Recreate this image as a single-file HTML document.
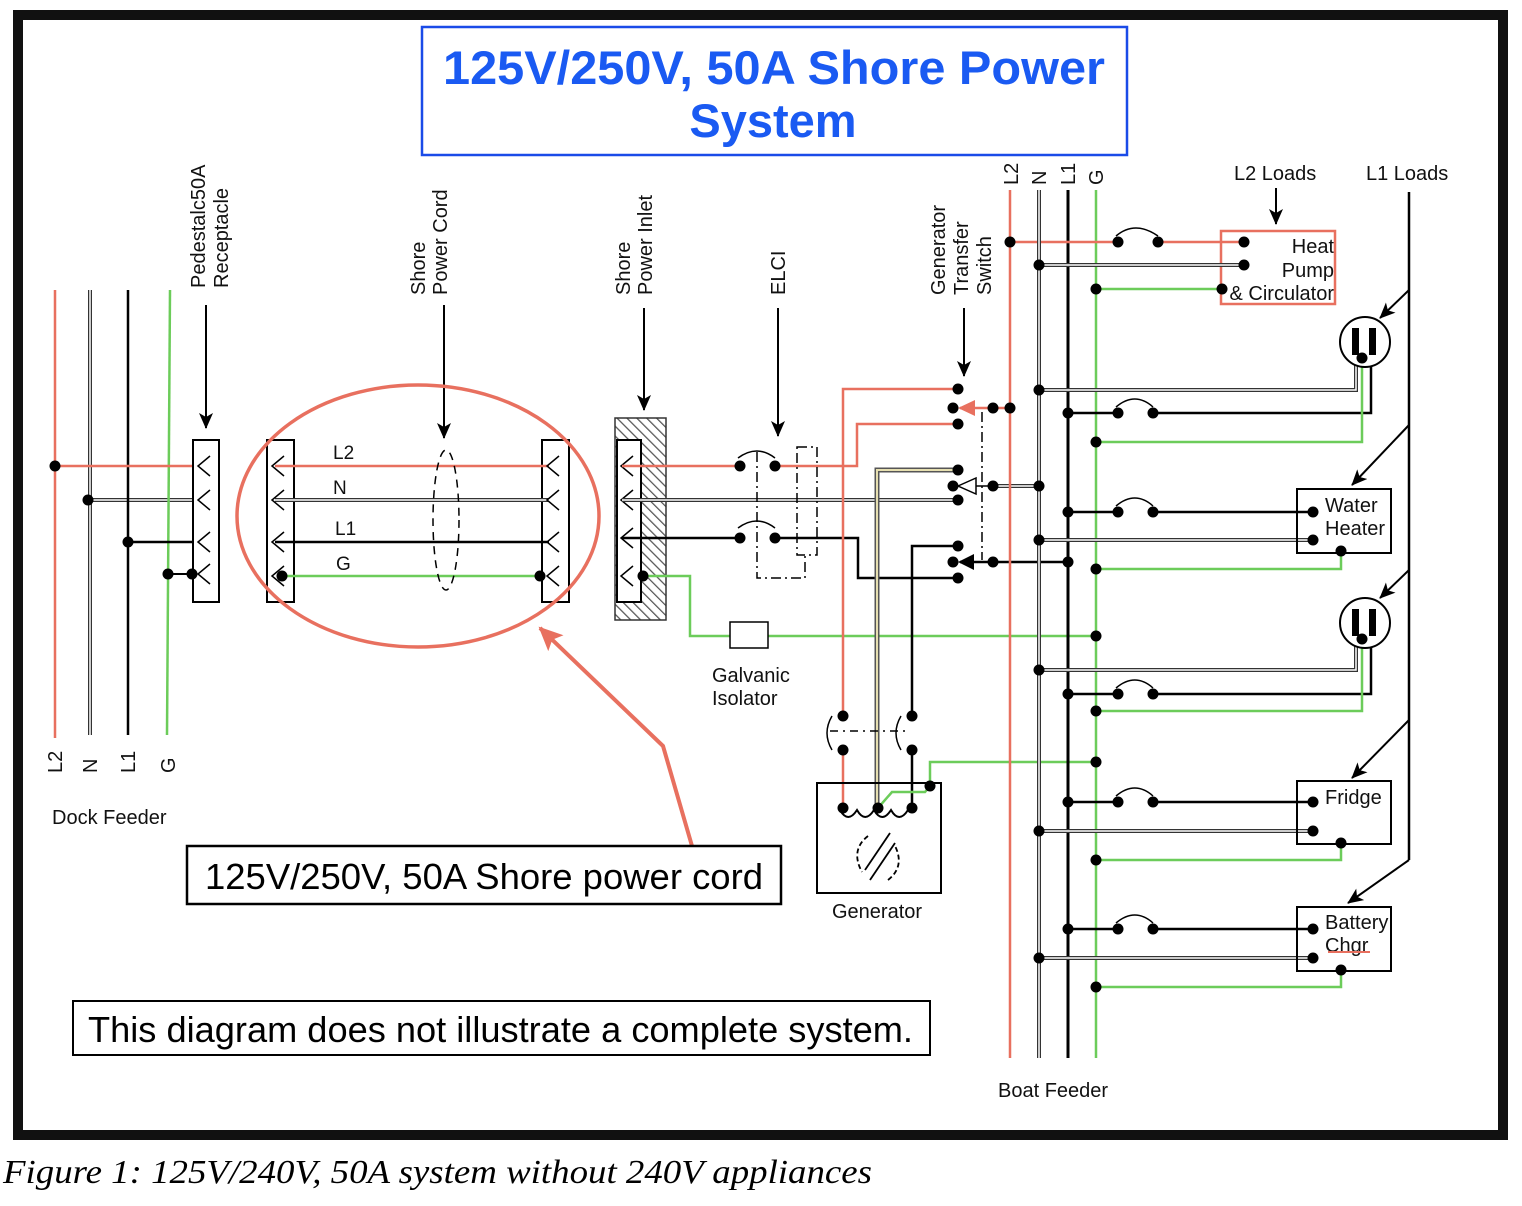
<!DOCTYPE html>
<html><head><meta charset="utf-8"><style>
html,body{margin:0;padding:0;background:#fff;}
svg{display:block;font-family:"Liberation Sans",Arial,sans-serif;}
</style></head><body>
<svg width="1522" height="1206" viewBox="0 0 1522 1206" xmlns="http://www.w3.org/2000/svg">
<defs>
<pattern id="hatch" width="7" height="7" patternUnits="userSpaceOnUse" patternTransform="rotate(-45)">
<rect width="7" height="7" fill="#fff"/><line x1="0" y1="0" x2="0" y2="7" stroke="#555" stroke-width="2.5"/>
</pattern>
<marker id="ahb" markerWidth="16" markerHeight="14" refX="15" refY="7" orient="auto" markerUnits="userSpaceOnUse"><path d="M0,0 L16,7 L0,14 L4,7 Z" fill="#000"/></marker>
<marker id="ahr" markerWidth="24" markerHeight="22" refX="22" refY="11" orient="auto" markerUnits="userSpaceOnUse"><path d="M0,0 L24,11 L0,22 L5,11 Z" fill="#e8705f"/></marker>
</defs>
<rect x="0" y="0" width="1522" height="1206" fill="#fff"/>
<rect x="18" y="15" width="1485" height="1120" fill="#fff" stroke="#111" stroke-width="10"/>

<!-- title -->
<rect x="422" y="27" width="705" height="128" fill="none" stroke="#1a4be8" stroke-width="2.5"/>
<text x="443" y="84" font-size="47" font-weight="bold" fill="#1a5af2" textLength="662" lengthAdjust="spacingAndGlyphs">125V/250V, 50A Shore Power</text>
<text x="773" y="137" font-size="47" font-weight="bold" fill="#1a5af2" text-anchor="middle">System</text>

<g font-size="20" fill="#111">
<text transform="translate(205,288) rotate(-90)">Pedestalc50A</text>
<text transform="translate(228,288) rotate(-90)">Receptacle</text>
<text transform="translate(425,295) rotate(-90)">Shore</text>
<text transform="translate(447,295) rotate(-90)">Power Cord</text>
<text transform="translate(630,295) rotate(-90)">Shore</text>
<text transform="translate(652,295) rotate(-90)">Power Inlet</text>
<text transform="translate(785,295) rotate(-90)">ELCI</text>
<text transform="translate(945,295) rotate(-90)">Generator</text>
<text transform="translate(968,295) rotate(-90)">Transfer</text>
<text transform="translate(991,295) rotate(-90)">Switch</text>
<text transform="translate(1018,185) rotate(-90)">L2</text>
<text transform="translate(1046,185) rotate(-90)">N</text>
<text transform="translate(1075,185) rotate(-90)">L1</text>
<text transform="translate(1103,185) rotate(-90)">G</text>
<text transform="translate(62,773) rotate(-90)">L2</text>
<text transform="translate(97,773) rotate(-90)">N</text>
<text transform="translate(135,773) rotate(-90)">L1</text>
<text transform="translate(175,773) rotate(-90)">G</text>
<text x="52" y="824">Dock Feeder</text>
<text x="1234" y="180">L2 Loads</text>
<text x="1366" y="180">L1 Loads</text>
<text x="998" y="1097">Boat Feeder</text>
<text x="832" y="918">Generator</text>
<text x="712" y="682">Galvanic</text>
<text x="712" y="705">Isolator</text>
<text x="333" y="459" font-size="19">L2</text>
<text x="333" y="494" font-size="19">N</text>
<text x="335" y="535" font-size="19">L1</text>
<text x="336" y="570" font-size="19">G</text>
<text x="1334" y="253" text-anchor="end">Heat</text>
<text x="1334" y="277" text-anchor="end">Pump</text>
<text x="1334" y="300" text-anchor="end">&amp; Circulator</text>
<text x="1325" y="512">Water</text>
<text x="1325" y="535">Heater</text>
<text x="1325" y="804">Fridge</text>
<text x="1325" y="929">Battery</text>
<text x="1325" y="952">Chgr</text>
</g>
<line x1="1328" y1="952" x2="1370" y2="952" stroke="#e8705f" stroke-width="2"/>

<g stroke="#000" stroke-width="2" fill="none" marker-end="url(#ahb)">
<line x1="206" y1="305" x2="206" y2="428"/>
<line x1="444" y1="305" x2="444" y2="438"/>
<line x1="644" y1="308" x2="644" y2="410"/>
<line x1="778" y1="308" x2="778" y2="436"/>
<line x1="964" y1="308" x2="964" y2="376"/>
<line x1="1276" y1="188" x2="1276" y2="224"/>
<line x1="1409" y1="290" x2="1380" y2="318"/>
<line x1="1409" y1="425" x2="1352" y2="485"/>
<line x1="1409" y1="570" x2="1380" y2="598"/>
<line x1="1409" y1="720" x2="1352" y2="778"/>
<line x1="1409" y1="860" x2="1348" y2="903"/>
</g>
<line x1="1409" y1="192" x2="1409" y2="860" stroke="#000" stroke-width="2.5"/>

<line x1="55" y1="290" x2="55" y2="738" stroke="#e8705f" stroke-width="2.5"/>
<g stroke="#333" stroke-width="4"><line x1="90" y1="290" x2="90" y2="735"/><line x1="88" y1="500" x2="200" y2="500"/></g>
<g stroke="#fff" stroke-width="1.5"><line x1="90" y1="290" x2="90" y2="735"/><line x1="88" y1="500" x2="200" y2="500"/></g>
<line x1="128" y1="290" x2="128" y2="735" stroke="#000" stroke-width="2.5"/>
<line x1="170" y1="290" x2="167" y2="735" stroke="#6ccc5a" stroke-width="2.5"/>
<line x1="55" y1="466" x2="200" y2="466" stroke="#e8705f" stroke-width="2.5"/>
<line x1="128" y1="542" x2="200" y2="542" stroke="#000" stroke-width="2.5"/>
<line x1="168" y1="574" x2="200" y2="574" stroke="#000" stroke-width="2"/>
<rect x="193" y="440" width="26" height="162" fill="#fff" stroke="#000" stroke-width="2"/>
<g stroke="#000" stroke-width="1.5" fill="none">
<path d="M210,456 L198,466 L210,476 M210,490 L198,500 L210,510 M210,532 L198,542 L210,552 M210,564 L198,574 L210,584"/>
</g>

<rect x="267" y="440" width="27" height="162" fill="#fff" stroke="#000" stroke-width="2"/>
<rect x="542" y="440" width="27" height="162" fill="#fff" stroke="#000" stroke-width="2"/>
<line x1="275" y1="466" x2="549" y2="466" stroke="#e8705f" stroke-width="2.5"/>
<line x1="275" y1="500" x2="549" y2="500" stroke="#333" stroke-width="4"/>
<line x1="275" y1="500" x2="549" y2="500" stroke="#fff" stroke-width="1.5"/>
<line x1="275" y1="542" x2="549" y2="542" stroke="#000" stroke-width="2.5"/>
<line x1="282" y1="576" x2="540" y2="576" stroke="#6ccc5a" stroke-width="2.5"/>
<g stroke="#000" stroke-width="1.5" fill="none">
<path d="M284,456 L272,466 L284,476 M284,490 L272,500 L284,510 M284,532 L272,542 L284,552 M284,566 L272,576 L284,586"/>
<path d="M559,456 L547,466 L559,476 M559,490 L547,500 L559,510 M559,532 L547,542 L559,552 M559,566 L547,576 L559,586"/>
</g>
<ellipse cx="446" cy="520" rx="13" ry="70" fill="none" stroke="#000" stroke-width="1.5" stroke-dasharray="8,6"/>
<ellipse cx="418" cy="516" rx="181" ry="131" fill="none" stroke="#e8705f" stroke-width="3.5"/>

<rect x="615" y="418" width="51" height="202" fill="url(#hatch)" stroke="#333" stroke-width="1.5"/>
<rect x="617" y="440" width="24" height="162" fill="#fff" stroke="#000" stroke-width="2"/>
<g stroke="#000" stroke-width="1.5" fill="none">
<path d="M633,456 L621,466 L633,476 M633,490 L621,500 L633,510 M633,528 L621,538 L633,548 M633,566 L621,576 L633,586"/>
</g>
<line x1="622" y1="466" x2="740" y2="466" stroke="#e8705f" stroke-width="2.5"/>
<polyline points="775,466 857,466 857,424 958,424" fill="none" stroke="#e8705f" stroke-width="2.5"/>
<line x1="622" y1="500" x2="958" y2="500" stroke="#333" stroke-width="4"/>
<line x1="622" y1="500" x2="958" y2="500" stroke="#fff" stroke-width="1.5"/>
<line x1="622" y1="538" x2="740" y2="538" stroke="#000" stroke-width="2.5"/>
<polyline points="775,538 858,538 858,578 958,578" fill="none" stroke="#000" stroke-width="2.5"/>
<polyline points="643,576 690,576 690,636 730,636" fill="none" stroke="#6ccc5a" stroke-width="2.5"/>
<line x1="768" y1="636" x2="1096" y2="636" stroke="#6ccc5a" stroke-width="2.5"/>
<rect x="730" y="622" width="38" height="26" fill="#fff" stroke="#000" stroke-width="1.5"/>

<g stroke="#000" stroke-width="1.5" fill="none">
<path d="M738,458 Q757,444 775,458"/><path d="M738,528 Q757,514 775,528"/>
<path d="M757,452 L757,578 L805,578 L805,555" stroke-dasharray="10,4,2,4"/>
<rect x="797" y="447" width="20" height="108" stroke-dasharray="10,4,2,4"/>
</g>

<polyline points="958,389 843,389 843,716" fill="none" stroke="#e8705f" stroke-width="2.5"/>
<polyline points="958,470 877,470 877,805" fill="none" stroke="#555" stroke-width="5"/>
<polyline points="958,470 877,470 877,805" fill="none" stroke="#e6dfb0" stroke-width="2"/>
<polyline points="958,546 912,546 912,716" fill="none" stroke="#000" stroke-width="2.5"/>
<line x1="960" y1="408" x2="1010" y2="408" stroke="#e8705f" stroke-width="2.5"/>
<path d="M958,408 L975,400 L975,416 Z" fill="#e8705f"/>
<line x1="993" y1="486" x2="1039" y2="486" stroke="#333" stroke-width="4"/>
<line x1="993" y1="486" x2="1039" y2="486" stroke="#fff" stroke-width="1.5"/>
<path d="M958,486 L976,478 L976,494 Z" fill="#fff" stroke="#000" stroke-width="1.5"/>
<line x1="976" y1="486" x2="993" y2="486" stroke="#000" stroke-width="1.5"/>
<line x1="960" y1="562" x2="1068" y2="562" stroke="#000" stroke-width="2.5"/>
<path d="M958,562 L974,554 L974,570 Z" fill="#000"/>
<line x1="982" y1="412" x2="982" y2="560" stroke="#000" stroke-width="1.5" stroke-dasharray="10,4,2,4"/>

<g stroke="#000" stroke-width="1.5" fill="none">
<path d="M832,716 Q822,733 832,750"/><path d="M901,716 Q891,733 901,750"/>
<line x1="830" y1="731" x2="905" y2="731" stroke-dasharray="8,5,2,5"/>
</g>
<line x1="843" y1="750" x2="843" y2="808" stroke="#e8705f" stroke-width="2.5"/>
<line x1="912" y1="750" x2="912" y2="808" stroke="#000" stroke-width="2.5"/>
<rect x="817" y="783" width="124" height="110" fill="none" stroke="#000" stroke-width="2"/>
<path d="M840,810 q8,14 17,0 q8,14 17,0 q8,14 17,0 q8,14 17,0" fill="none" stroke="#000" stroke-width="2"/>
<polyline points="878,808 892,792 925,792 930,786 930,762 1096,762" fill="none" stroke="#6ccc5a" stroke-width="2.5"/>
<g stroke="#000" stroke-width="1.8" fill="none">
<path d="M868,836 Q850,850 862,872" stroke-dasharray="5,3"/><path d="M888,880 Q906,866 894,844" stroke-dasharray="5,3"/>
<line x1="865" y1="870" x2="890" y2="833"/><line x1="870" y1="880" x2="895" y2="843"/>
</g>

<line x1="1010" y1="190" x2="1010" y2="1058" stroke="#e8705f" stroke-width="2.5"/>
<line x1="1068" y1="190" x2="1068" y2="1058" stroke="#000" stroke-width="3"/>
<line x1="1096" y1="190" x2="1096" y2="1058" stroke="#6ccc5a" stroke-width="2.5"/>

<line x1="1010" y1="242" x2="1118" y2="242" stroke="#e8705f" stroke-width="2.5"/>
<line x1="1158" y1="242" x2="1244" y2="242" stroke="#e8705f" stroke-width="2.5"/>
<line x1="1096" y1="289" x2="1222" y2="289" stroke="#6ccc5a" stroke-width="2.5"/>
<rect x="1221" y="231" width="114" height="73" fill="none" stroke="#e8705f" stroke-width="2.5"/>

<g fill="none" stroke-width="2.5">
<polyline points="1068,413 1118,413" stroke="#000"/><polyline points="1153,413 1371,413 1371,355" stroke="#000"/>
<polyline points="1096,442 1362,442 1362,358" stroke="#6ccc5a"/>
<polyline points="1068,512 1118,512" stroke="#000"/><polyline points="1153,512 1313,512" stroke="#000"/>
<polyline points="1096,569 1341,569 1341,551" stroke="#6ccc5a"/>
<polyline points="1068,694 1118,694" stroke="#000"/><polyline points="1153,694 1371,694 1371,636" stroke="#000"/>
<polyline points="1096,711 1362,711 1362,639" stroke="#6ccc5a"/>
<polyline points="1068,802 1118,802" stroke="#000"/><polyline points="1153,802 1313,802" stroke="#000"/>
<polyline points="1096,860 1341,860 1341,843" stroke="#6ccc5a"/>
<polyline points="1068,929 1118,929" stroke="#000"/><polyline points="1153,929 1313,929" stroke="#000"/>
<polyline points="1096,987 1341,987 1341,970" stroke="#6ccc5a"/>
</g>
<g fill="none" stroke="#333" stroke-width="4">
<line x1="1039" y1="190" x2="1039" y2="1058"/>
<line x1="1039" y1="265" x2="1244" y2="265"/>
<polyline points="1039,390 1356,390 1356,355"/>
<line x1="1039" y1="540" x2="1313" y2="540"/>
<polyline points="1039,670 1356,670 1356,636"/>
<line x1="1039" y1="831" x2="1313" y2="831"/>
<line x1="1039" y1="958" x2="1313" y2="958"/>
</g>
<g fill="none" stroke="#fff" stroke-width="1.5">
<line x1="1039" y1="190" x2="1039" y2="1058"/>
<line x1="1039" y1="265" x2="1244" y2="265"/>
<polyline points="1039,390 1356,390 1356,355"/>
<line x1="1039" y1="540" x2="1313" y2="540"/>
<polyline points="1039,670 1356,670 1356,636"/>
<line x1="1039" y1="831" x2="1313" y2="831"/>
<line x1="1039" y1="958" x2="1313" y2="958"/>
</g>
<g fill="none" stroke="#000" stroke-width="1.5">
<path d="M1116,236 Q1135,220 1158,236"/><path d="M1116,407 Q1135,391 1153,407"/>
<path d="M1116,506 Q1135,490 1153,506"/><path d="M1116,688 Q1135,672 1153,688"/>
<path d="M1116,796 Q1135,780 1153,796"/><path d="M1116,923 Q1135,907 1153,923"/>
</g>
<g stroke="#000" stroke-width="2" fill="#fff">
<circle cx="1365" cy="342" r="25"/><circle cx="1365" cy="623" r="25"/>
</g>
<g fill="#000">
<rect x="1352" y="328" width="7" height="27"/><rect x="1369" y="328" width="7" height="27"/>
<rect x="1352" y="609" width="7" height="27"/><rect x="1369" y="609" width="7" height="27"/>
</g>
<g fill="none" stroke="#000" stroke-width="2">
<rect x="1297" y="489" width="94" height="64"/>
<rect x="1297" y="781" width="94" height="63"/>
<rect x="1297" y="907" width="94" height="64"/>
</g>

<g fill="#000">
<circle cx="55" cy="466" r="5.5"/><circle cx="88" cy="500" r="5.5"/><circle cx="128" cy="542" r="5.5"/><circle cx="168" cy="574" r="5.5"/><circle cx="192" cy="574" r="5.5"/>
<circle cx="282" cy="576" r="5.5"/><circle cx="540" cy="576" r="5.5"/><circle cx="643" cy="576" r="5.5"/>
<circle cx="740" cy="466" r="5.5"/><circle cx="775" cy="466" r="5.5"/><circle cx="740" cy="538" r="5.5"/><circle cx="775" cy="538" r="5.5"/>
<circle cx="958" cy="389" r="5.5"/><circle cx="953" cy="408" r="5.5"/><circle cx="958" cy="424" r="5.5"/>
<circle cx="958" cy="470" r="5.5"/><circle cx="953" cy="486" r="5.5"/><circle cx="958" cy="500" r="5.5"/>
<circle cx="958" cy="546" r="5.5"/><circle cx="953" cy="562" r="5.5"/><circle cx="958" cy="578" r="5.5"/>
<circle cx="993" cy="408" r="5.5"/><circle cx="1010" cy="408" r="5.5"/><circle cx="993" cy="486" r="5.5"/><circle cx="1039" cy="486" r="5.5"/>
<circle cx="993" cy="562" r="5.5"/><circle cx="1068" cy="562" r="5.5"/>
<circle cx="843" cy="716" r="5.5"/><circle cx="843" cy="750" r="5.5"/><circle cx="912" cy="716" r="5.5"/><circle cx="912" cy="750" r="5.5"/>
<circle cx="843" cy="808" r="5.5"/><circle cx="878" cy="808" r="5.5"/><circle cx="912" cy="808" r="5.5"/><circle cx="930" cy="786" r="5.5"/>
<circle cx="1096" cy="636" r="5.5"/><circle cx="1096" cy="762" r="5.5"/>
<circle cx="1010" cy="242" r="5.5"/><circle cx="1118" cy="242" r="5.5"/><circle cx="1158" cy="242" r="5.5"/><circle cx="1244" cy="242" r="5.5"/>
<circle cx="1039" cy="265" r="5.5"/><circle cx="1244" cy="265" r="5.5"/><circle cx="1096" cy="289" r="5.5"/><circle cx="1222" cy="289" r="5.5"/>
<circle cx="1039" cy="390" r="5.5"/><circle cx="1068" cy="413" r="5.5"/><circle cx="1118" cy="413" r="5.5"/><circle cx="1153" cy="413" r="5.5"/><circle cx="1096" cy="442" r="5.5"/><circle cx="1362" cy="358" r="5.5"/>
<circle cx="1068" cy="512" r="5.5"/><circle cx="1118" cy="512" r="5.5"/><circle cx="1153" cy="512" r="5.5"/><circle cx="1313" cy="512" r="5.5"/>
<circle cx="1039" cy="540" r="5.5"/><circle cx="1313" cy="540" r="5.5"/><circle cx="1096" cy="569" r="5.5"/><circle cx="1341" cy="551" r="5.5"/>
<circle cx="1039" cy="670" r="5.5"/><circle cx="1068" cy="694" r="5.5"/><circle cx="1118" cy="694" r="5.5"/><circle cx="1153" cy="694" r="5.5"/><circle cx="1096" cy="711" r="5.5"/><circle cx="1362" cy="639" r="5.5"/>
<circle cx="1068" cy="802" r="5.5"/><circle cx="1118" cy="802" r="5.5"/><circle cx="1153" cy="802" r="5.5"/><circle cx="1313" cy="802" r="5.5"/>
<circle cx="1039" cy="831" r="5.5"/><circle cx="1313" cy="831" r="5.5"/><circle cx="1096" cy="860" r="5.5"/><circle cx="1341" cy="843" r="5.5"/>
<circle cx="1068" cy="929" r="5.5"/><circle cx="1118" cy="929" r="5.5"/><circle cx="1153" cy="929" r="5.5"/><circle cx="1313" cy="929" r="5.5"/>
<circle cx="1039" cy="958" r="5.5"/><circle cx="1313" cy="958" r="5.5"/><circle cx="1096" cy="987" r="5.5"/><circle cx="1341" cy="970" r="5.5"/>
</g>

<polyline points="692,846 663,746 540,628" fill="none" stroke="#e8705f" stroke-width="4" marker-end="url(#ahr)"/>
<rect x="187" y="846" width="594" height="58" fill="#fff" stroke="#000" stroke-width="2.5"/>
<text x="205" y="889" font-size="36" fill="#000" textLength="558" lengthAdjust="spacingAndGlyphs">125V/250V, 50A Shore power cord</text>
<rect x="73" y="1001" width="857" height="54" fill="#fff" stroke="#000" stroke-width="2"/>
<text x="88" y="1042" font-size="36" fill="#000" textLength="825" lengthAdjust="spacingAndGlyphs">This diagram does not illustrate a complete system.</text>

<text x="3" y="1183" font-size="34" font-style="italic" font-family="'Liberation Serif',serif" fill="#000" textLength="869" lengthAdjust="spacingAndGlyphs">Figure 1: 125V/240V, 50A system without 240V appliances</text>
</svg>
</body></html>
